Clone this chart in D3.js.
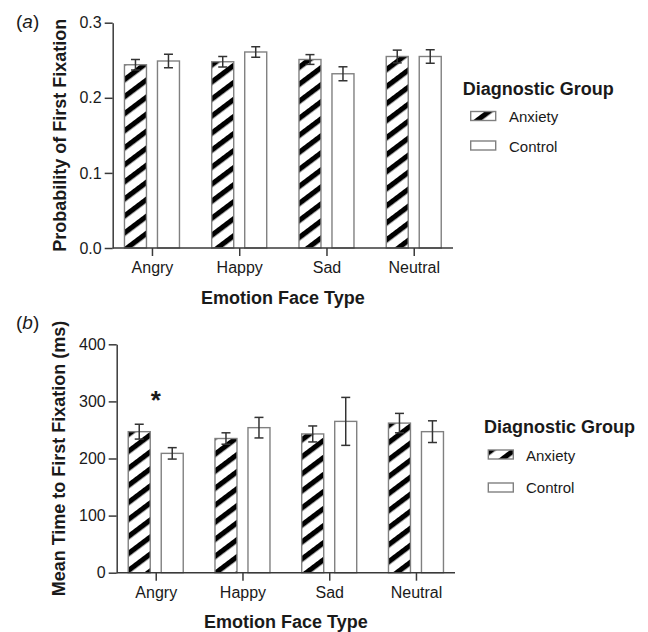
<!DOCTYPE html>
<html>
<head>
<meta charset="utf-8">
<script src="https://cdn.jsdelivr.net/npm/d3@7"></script>
<style>
  body { margin: 0; background: #fff; }
  svg { display: block; }
  text { font-family: "Liberation Sans", Arial, Helvetica, sans-serif; fill: #1a1a1a; }
</style>
</head>
<body>
<svg id="chart" width="648" height="632"></svg>
<script>
// ---- data ----
const categories = ["Angry", "Happy", "Sad", "Neutral"];
const groups = ["Anxiety", "Control"];

const probAnxiety = [0.244, 0.248, 0.251, 0.255];
const probControl = [0.249, 0.261, 0.232, 0.255];
const probAnxietyErr = [0.007, 0.007, 0.0065, 0.0085];
const probControlErr = [0.009, 0.007, 0.0093, 0.009];
const probTicks = [0, 0.1, 0.2, 0.3];

const timeAnxiety = [247, 235, 243, 262];
const timeControl = [209, 254, 265, 247];
const timeAnxietyErr = [13, 10, 14, 17];
const timeControlErr = [10, 18, 42, 19];
const timeTicks = [0, 100, 200, 300, 400];

const sigCategory = ["Angry"];
const sigLevel = [311];

// ---- drawing ----
const svg = d3.select("#chart");
const defs = svg.append("defs");
const pat = defs.append("pattern")
  .attr("id", "hatch")
  .attr("patternUnits", "userSpaceOnUse")
  .attr("width", 13.6).attr("height", 13.6)
  .attr("patternTransform", "rotate(-37)");
pat.append("rect").attr("width", 13.6).attr("height", 13.6).attr("fill", "#fff");
pat.append("rect").attr("y", 0).attr("width", 13.6).attr("height", 5.2).attr("fill", "#000");

const AXIS = "#3a3a3a";
const OUTLINE = "#808080";

function panel(cfg) {
  const g = svg.append("g");
  const x = d3.scalePoint().domain(categories).range(cfg.xr).padding(0.45);
  const y = d3.scaleLinear().domain(cfg.domain).range(cfg.yr);
  const offset = 16.5, bw = 22;

  const series = [
    { name: groups[0], vals: cfg.a, errs: cfg.ae, dx: -offset, fill: "url(#hatch)" },
    { name: groups[1], vals: cfg.c, errs: cfg.ce, dx: offset, fill: "#fff" }
  ];

  series.forEach(s => {
    g.selectAll(null).data(categories).enter().append("rect")
      .attr("x", d => x(d) + s.dx - bw / 2)
      .attr("y", (d, i) => y(s.vals[i]))
      .attr("width", bw)
      .attr("height", (d, i) => y(0) - y(s.vals[i]))
      .attr("fill", s.fill)
      .attr("stroke", OUTLINE)
      .attr("stroke-width", 1.4);
  });

  series.forEach(s => {
    categories.forEach((c, i) => {
      const cx = x(c) + s.dx;
      const top = y(s.vals[i] + s.errs[i]);
      const bot = y(s.vals[i] - s.errs[i]);
      const eg = g.append("g").attr("stroke", "#333").attr("stroke-width", 1.5);
      eg.append("line").attr("x1", cx).attr("x2", cx).attr("y1", top).attr("y2", bot);
      eg.append("line").attr("x1", cx - 4.5).attr("x2", cx + 4.5).attr("y1", top).attr("y2", top);
      eg.append("line").attr("x1", cx - 4.5).attr("x2", cx + 4.5).attr("y1", bot).attr("y2", bot);
    });
  });

  // axes
  const ya = g.append("g").attr("transform", `translate(${cfg.xr[0]},0)`)
    .call(d3.axisLeft(y).tickValues(cfg.ticks).tickFormat(cfg.fmt).tickSize(8).tickSizeOuter(0).tickPadding(3));
  const xa = g.append("g").attr("transform", `translate(0,${cfg.yr[0]})`)
    .call(d3.axisBottom(x).tickSize(8).tickSizeOuter(0).tickPadding(6));
  [ya, xa].forEach(a => {
    a.select(".domain").attr("stroke", AXIS).attr("stroke-width", 1.5);
    a.selectAll(".tick line").attr("stroke", AXIS).attr("stroke-width", 1.5);
    a.selectAll(".tick text").attr("font-size", 16).attr("fill", "#1a1a1a")
      .attr("font-family", "'Liberation Sans', Arial, sans-serif");
  });
  xa.select(".domain").attr("d", `M${cfg.xr[0]},0H${cfg.xr[1]}`);

  // y title
  const yc = (cfg.yr[0] + cfg.yr[1]) / 2;
  g.append("text")
    .attr("transform", `translate(${cfg.ytx},${yc}) rotate(-90)`)
    .attr("text-anchor", "middle").attr("dy", "0.35em")
    .attr("font-size", 18).attr("font-weight", "bold")
    .text(cfg.ytitle);
  // x title
  g.append("text")
    .attr("x", (cfg.xr[0] + cfg.xr[1]) / 2).attr("y", cfg.xty)
    .attr("text-anchor", "middle")
    .attr("font-size", 18).attr("font-weight", "bold")
    .text("Emotion Face Type");

  // panel label
  const pl = g.append("text").attr("x", 16).attr("y", cfg.ply).attr("font-size", 19);
  pl.append("tspan").text("(");
  pl.append("tspan").attr("font-style", "italic").text(cfg.letter);
  pl.append("tspan").text(")");

  // legend
  const L = cfg.leg;
  g.append("text").attr("x", L.tx).attr("y", L.ty)
    .attr("font-size", 18).attr("font-weight", "bold").text("Diagnostic Group");
  series.forEach((s, i) => {
    g.append("rect").attr("x", L.sx).attr("y", L.sy[i]).attr("width", 25).attr("height", 9)
      .attr("fill", s.fill).attr("stroke", OUTLINE).attr("stroke-width", 1.4);
    g.append("text").attr("x", L.lx).attr("y", L.ly[i]).attr("font-size", 15).text(s.name);
  });

  return { g, x, y };
}

panel({
  xr: [112.7, 453], yr: [248, 22.7], domain: [0, 0.3], ticks: probTicks,
  fmt: d3.format(".1f"),
  a: probAnxiety, c: probControl, ae: probAnxietyErr, ce: probControlErr,
  ytitle: "Probability of First Fixation", ytx: 60, xty: 303.5,
  letter: "a", ply: 28,
  leg: { tx: 462.7, ty: 95, sx: 470.7, sy: [111.5, 141], lx: 509, ly: [121.7, 151.7] }
});

const pb = panel({
  xr: [116.7, 455], yr: [572.7, 344.3], domain: [0, 400], ticks: timeTicks,
  fmt: d3.format("d"),
  a: timeAnxiety, c: timeControl, ae: timeAnxietyErr, ce: timeControlErr,
  ytitle: "Mean Time to First Fixation (ms)", ytx: 59, xty: 628,
  letter: "b", ply: 329,
  leg: { tx: 484, ty: 432.7, sx: 488.3, sy: [450, 483], lx: 526, ly: [460.7, 493.3] }
});

pb.g.selectAll(null).data(sigCategory).enter().append("text")
  .attr("x", d => pb.x(d))
  .attr("y", (d, i) => pb.y(sigLevel[i]) + 14)
  .attr("text-anchor", "middle")
  .attr("font-size", 26).attr("font-weight", "bold")
  .text("*");
</script>
</body>
</html>
